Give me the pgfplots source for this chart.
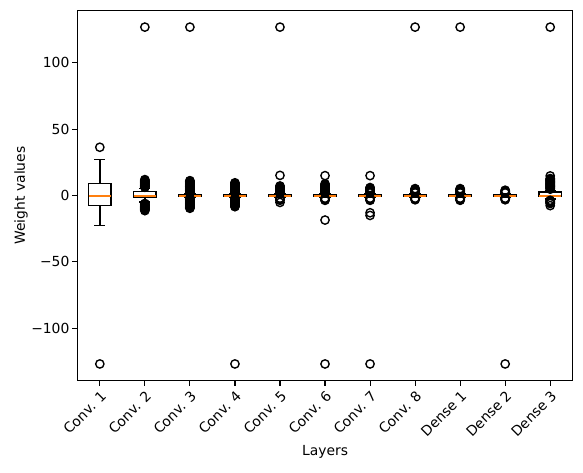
\documentclass[border=0pt]{standalone}
\usepackage{fontspec}
\setmainfont{DejaVu Sans}
\usepackage{pgfplots}
\pgfplotsset{compat=1.18}
\usepgfplotslibrary{statistics}
\definecolor{mplorange}{HTML}{FF7F0E}
\pgfplotsset{
  mpl box/.style={
    black, line width=1pt, solid,
    mark=o, mark size=3pt, mark options={line width=1pt, fill=none},
    boxplot/draw direction=y,
    boxplot/box extend=0.5,
    boxplot/whisker extend=0.25,
    boxplot/draw/median/.code={%
      \draw[draw=mplorange, line width=1.4pt]
        (boxplot box cs:\pgfplotsboxplotvalue{median},0) --
        (boxplot box cs:\pgfplotsboxplotvalue{median},1);},
  },
}
\begin{document}
\begin{tikzpicture}
\begin{axis}[
  scale only axis,
  width=357pt, height=267pt,
  xmin=0.5, xmax=11.5,
  ymin=-139.7, ymax=139.7,
  axis line style={line width=0.8pt},
  tick align=outside, tick pos=left,
  major tick length=3.5pt,
  every tick/.style={black, line width=0.8pt},
  xtick={1,2,3,4,5,6,7,8,9,10,11},
  xticklabels={Conv. 1,Conv. 2,Conv. 3,Conv. 4,Conv. 5,Conv. 6,Conv. 7,Conv. 8,Dense 1,Dense 2,Dense 3},
  xticklabel style={rotate=45, anchor=north east, inner sep=2pt},
  ytick={-100,-50,0,50,100},
  yticklabels={−100,−50,0,50,100},
  yticklabel style={inner sep=2pt},
  xlabel={Layers},
  ylabel={Weight values},
  xlabel style={yshift=1pt},
  ylabel shift=-3pt,
]
% Conv. 1
\addplot[mpl box, boxplot prepared={draw position=1, lower whisker=-22.7, lower quartile=-7.6, median=0, upper quartile=9.1, upper whisker=27}]
  table[row sep=\\, y index=0] {y\\ 36.4\\ -127\\};
% Conv. 2
\addplot[mpl box, boxplot prepared={draw position=2, lower whisker=-5, lower quartile=-1.2, median=0, upper quartile=3, upper whisker=5.5}]
  table[row sep=\\, y index=0] {y\\ 6.2\\ 6.6\\ 7.0\\ 7.4\\ 7.8\\ 8.2\\ 8.6\\ 9.0\\ 9.4\\ 9.8\\ 10.2\\ 10.6\\ 11.0\\ 11.4\\ 12.0\\
  -6.0\\ -6.4\\ -6.8\\ -7.2\\ -7.6\\ -8.0\\ -8.4\\ -8.8\\ -9.2\\ -9.6\\ -10.0\\ -10.4\\ -10.8\\ -11.4\\ 127\\};
% Conv. 3
\addplot[mpl box, boxplot prepared={draw position=3, lower whisker=-1.5, lower quartile=-0.5, median=0, upper quartile=0.5, upper whisker=1.5}]
  table[row sep=\\, y index=0] {y\\ 2.0\\ 2.4\\ 2.8\\ 3.2\\ 3.6\\ 4.0\\ 4.4\\ 4.8\\ 5.2\\ 5.6\\ 6.0\\ 6.4\\ 6.8\\ 7.2\\ 7.6\\ 8.0\\ 8.4\\ 8.8\\ 9.2\\ 9.6\\ 10.0\\ 10.4\\ 10.8\\ 11.2\\
  -2.0\\ -2.4\\ -2.8\\ -3.2\\ -3.6\\ -4.0\\ -4.4\\ -4.8\\ -5.2\\ -5.6\\ -6.0\\ -6.4\\ -6.8\\ -7.2\\ -7.6\\ -8.0\\ -8.4\\ -8.8\\ -9.2\\ -9.6\\ 127\\};
% Conv. 4
\addplot[mpl box, boxplot prepared={draw position=4, lower whisker=-1.5, lower quartile=-0.5, median=0, upper quartile=0.5, upper whisker=1.5}]
  table[row sep=\\, y index=0] {y\\ 2.0\\ 2.4\\ 2.8\\ 3.2\\ 3.6\\ 4.0\\ 4.4\\ 4.8\\ 5.2\\ 5.6\\ 6.0\\ 6.4\\ 6.8\\ 7.2\\ 7.6\\ 8.0\\ 8.4\\ 8.8\\ 9.2\\ 9.6\\
  -2.0\\ -2.4\\ -2.8\\ -3.2\\ -3.6\\ -4.0\\ -4.4\\ -4.8\\ -5.2\\ -5.6\\ -6.0\\ -6.4\\ -6.8\\ -7.2\\ -7.6\\ -8.0\\ -8.4\\ -127\\};
% Conv. 5
\addplot[mpl box, boxplot prepared={draw position=5, lower whisker=-1.5, lower quartile=-0.5, median=0, upper quartile=0.5, upper whisker=1.5}]
  table[row sep=\\, y index=0] {y\\ 2.0\\ 2.4\\ 2.8\\ 3.2\\ 3.6\\ 4.0\\ 4.4\\ 4.8\\ 5.2\\ 5.6\\ 6.0\\ 6.4\\ 6.8\\ 7.2\\ 15.2\\ 127\\
  -2.0\\ -2.4\\ -2.8\\ -3.2\\ -3.6\\ -5.2\\};
% Conv. 6
\addplot[mpl box, boxplot prepared={draw position=6, lower whisker=-1.5, lower quartile=-0.5, median=0, upper quartile=0.5, upper whisker=1.5}]
  table[row sep=\\, y index=0] {y\\ 2.0\\ 2.4\\ 2.8\\ 3.2\\ 3.6\\ 4.0\\ 4.4\\ 4.8\\ 5.2\\ 5.6\\ 6.0\\ 6.4\\ 6.8\\ 7.2\\ 7.6\\ 8.0\\ 8.8\\ 15.0\\
  -2.0\\ -2.4\\ -2.8\\ -3.2\\ -3.6\\ -18.5\\ -127\\};
% Conv. 7
\addplot[mpl box, boxplot prepared={draw position=7, lower whisker=-1.5, lower quartile=-0.5, median=0, upper quartile=0.5, upper whisker=1.5}]
  table[row sep=\\, y index=0] {y\\ 2.0\\ 2.4\\ 2.8\\ 3.2\\ 3.6\\ 4.0\\ 4.4\\ 4.8\\ 5.2\\ 5.6\\ 6.0\\ 15.0\\
  -2.0\\ -2.4\\ -2.8\\ -3.2\\ -3.6\\ -13.0\\ -15.0\\ -127\\};
% Conv. 8
\addplot[mpl box, boxplot prepared={draw position=8, lower whisker=-1.5, lower quartile=-0.5, median=0, upper quartile=0.5, upper whisker=1.5}]
  table[row sep=\\, y index=0] {y\\ 2.0\\ 2.4\\ 2.8\\ 3.2\\ 3.6\\ 4.0\\ 4.4\\ 4.8\\ 5.2\\
  -2.0\\ -2.4\\ -2.8\\ -3.2\\ 127\\};
% Dense 1
\addplot[mpl box, boxplot prepared={draw position=9, lower whisker=-1.5, lower quartile=-0.5, median=0, upper quartile=0.5, upper whisker=1.5}]
  table[row sep=\\, y index=0] {y\\ 2.0\\ 2.4\\ 2.8\\ 3.2\\ 3.6\\ 4.0\\ 4.4\\ 4.8\\ 5.2\\
  -2.0\\ -2.4\\ -2.8\\ -3.2\\ -3.6\\ 127\\};
% Dense 2
\addplot[mpl box, boxplot prepared={draw position=10, lower whisker=-1.5, lower quartile=-0.5, median=0, upper quartile=0.5, upper whisker=1.5}]
  table[row sep=\\, y index=0] {y\\ 2.0\\ 2.4\\ 2.8\\ 3.2\\ 3.6\\ 4.0\\
  -2.0\\ -2.4\\ -2.8\\ -3.2\\ -127\\};
% Dense 3
\addplot[mpl box, boxplot prepared={draw position=11, lower whisker=-2.5, lower quartile=-0.8, median=0, upper quartile=2.8, upper whisker=4.0}]
  table[row sep=\\, y index=0] {y\\ 4.8\\ 5.2\\ 5.6\\ 6.0\\ 6.4\\ 6.8\\ 7.2\\ 7.6\\ 8.0\\ 8.4\\ 8.8\\ 9.2\\ 9.6\\ 10.0\\ 10.4\\ 10.8\\ 11.2\\ 11.6\\ 12.0\\ 12.4\\ 12.8\\ 14.8\\ 127\\
  -3.6\\ -4.0\\ -4.4\\ -4.8\\ -5.2\\ -5.6\\ -6.0\\ -7.6\\};
\end{axis}
% white margin like matplotlib's tight bounding box padding
\path ([shift={(-7pt,-7pt)}]current bounding box.south west)
      ([shift={(7pt,7pt)}]current bounding box.north east);
\end{tikzpicture}
\end{document}
